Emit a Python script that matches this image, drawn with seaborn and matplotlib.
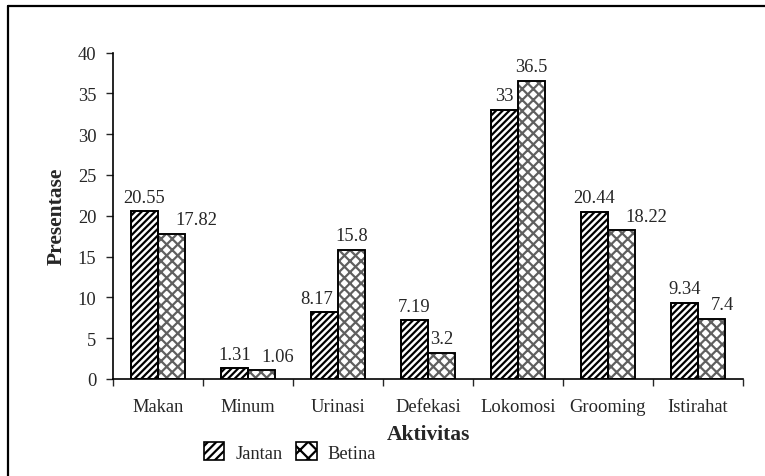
import matplotlib
matplotlib.use("Agg")
import matplotlib.pyplot as plt
from matplotlib.lines import Line2D
from matplotlib.ticker import FixedLocator
import seaborn as sns
import pandas as pd

aktivitas = ["Makan", "Minum", "Urinasi", "Defekasi", "Lokomosi", "Grooming", "Istirahat"]
jantan = [20.55, 1.31, 8.17, 7.19, 33, 20.44, 9.34]
betina = [17.82, 1.06, 15.8, 3.2, 36.5, 18.22, 7.4]
jantan_labels = ["20.55", "1.31", "8.17", "7.19", "33", "20.44", "9.34"]
betina_labels = ["17.82", "1.06", "15.8", "3.2", "36.5", "18.22", "7.4"]
y_ticks = [0, 5, 10, 15, 20, 25, 30, 35, 40]

df = pd.DataFrame({
    "Aktivitas": aktivitas * 2,
    "Presentase": jantan + betina,
    "Jenis": ["Jantan"] * len(aktivitas) + ["Betina"] * len(aktivitas),
})

sns.set_style("white")
plt.rcParams["font.family"] = ["Liberation Serif", "DejaVu Serif"]
plt.rcParams["hatch.linewidth"] = 1.6

FS = 13.3
fig = plt.figure(figsize=(7.65, 4.77), dpi=100)
ax = fig.add_axes([113 / 765, 1 - 380 / 477, 630 / 765, 326.5 / 477])

sns.barplot(data=df, x="Aktivitas", y="Presentase", hue="Jenis",
            order=aktivitas, hue_order=["Jantan", "Betina"],
            palette=["white", "white"], width=0.6, gap=0,
            edgecolor="black", linewidth=1.2, ax=ax, legend=True)

hatch_styles = {"Jantan": "/////", "Betina": "xxx"}
hatch_colors = {"Jantan": "black", "Betina": "#606060"}
for cont, name in zip(ax.containers, ["Jantan", "Betina"]):
    for bar in cont:
        bar.set_hatch(hatch_styles[name])
        bar.set_edgecolor(hatch_colors[name])
        bar.set_zorder(1)
        # black outline over the hatched fill
        ax.bar(bar.get_x() + bar.get_width() / 2, bar.get_height(), width=bar.get_width(),
               fill=False, edgecolor="black", linewidth=1.3, zorder=1.5)

ax.set_ylim(0, 40)
ax.set_xlim(-0.5, len(aktivitas) - 0.5)
ax.set_yticks(y_ticks)
ax.tick_params(axis="y", direction="out", length=5, width=1, labelsize=FS, pad=7, left=True)
ax.tick_params(axis="x", which="major", length=0, labelsize=FS, pad=14)
ax.xaxis.set_minor_locator(FixedLocator([i - 0.5 for i in range(len(aktivitas) + 1)]))
ax.tick_params(axis="x", which="minor", direction="out", length=5, width=1, bottom=True)

for side in ["top", "right"]:
    ax.spines[side].set_visible(False)
for side in ["left", "bottom"]:
    ax.spines[side].set_color("black")
    ax.spines[side].set_linewidth(1.2)

ax.set_ylabel("Presentase", fontsize=15.5, fontweight="bold", labelpad=8)
ax.set_xlabel("Aktivitas", fontsize=15.5, fontweight="bold", labelpad=6)

# value labels above each bar, nudged sideways where they would run into a neighbour
jbars, bbars = list(ax.containers[0]), list(ax.containers[1])
texts = []
for bars, labels in ((jbars, jantan_labels), (bbars, betina_labels)):
    row = []
    for bar, lab in zip(bars, labels):
        t = ax.annotate(lab, (bar.get_x() + bar.get_width() / 2, bar.get_height()),
                        xytext=(0, 7), textcoords="offset points",
                        ha="center", va="baseline", fontsize=FS, zorder=3)
        row.append(t)
    texts.append(row)


def overlaps(a, b):
    return a.x0 < b.x1 and b.x0 < a.x1 and a.y0 < b.y1 and b.y0 < a.y1


fig.canvas.draw()
renderer = fig.canvas.get_renderer()
px_pt = 72 / fig.dpi
for i in range(len(aktivitas)):
    jb, bb = jbars[i], bbars[i]
    jt, bt = texts[0][i], texts[1][i]
    jbox = jb.get_window_extent(renderer)
    bbox_ = bb.get_window_extent(renderer)
    jtb = jt.get_window_extent(renderer)
    btb = bt.get_window_extent(renderer)
    if jtb.y0 < bbox_.y1 and jtb.x1 > bbox_.x0:
        dx = (bbox_.x0 - 5) - jtb.x1
        jt.xyann = (dx * px_pt, 7)
        jtb = jt.get_window_extent(renderer)
    if (btb.y0 < jbox.y1 and btb.x0 < jbox.x1) or overlaps(btb, jtb):
        dx = (max(jbox.x1, jtb.x1) + 10) - btb.x0
        bt.xyann = (dx * px_pt, 7)

handles, labels = ax.get_legend_handles_labels()
for h, name in zip(handles, ["Jantan", "Betina"]):
    h.set_hatch("////" if name == "Jantan" else "xx")
    h.set_edgecolor("black")
ax.legend(handles, labels, loc="center", bbox_to_anchor=(290 / 765, 1 - 453 / 477),
          bbox_transform=fig.transFigure, ncol=2, frameon=False, fontsize=FS,
          handlelength=1.1, handleheight=1.1, columnspacing=0.75, handletextpad=0.6)

# outer frame lines
fx, fy = 8 / 765, 1 - 7 / 477
fig.add_artist(Line2D([fx, fx], [0, fy], transform=fig.transFigure, color="black", lw=1.6))
fig.add_artist(Line2D([fx, 1], [fy, fy], transform=fig.transFigure, color="black", lw=1.6))

fig.savefig("out.png", dpi=100)
